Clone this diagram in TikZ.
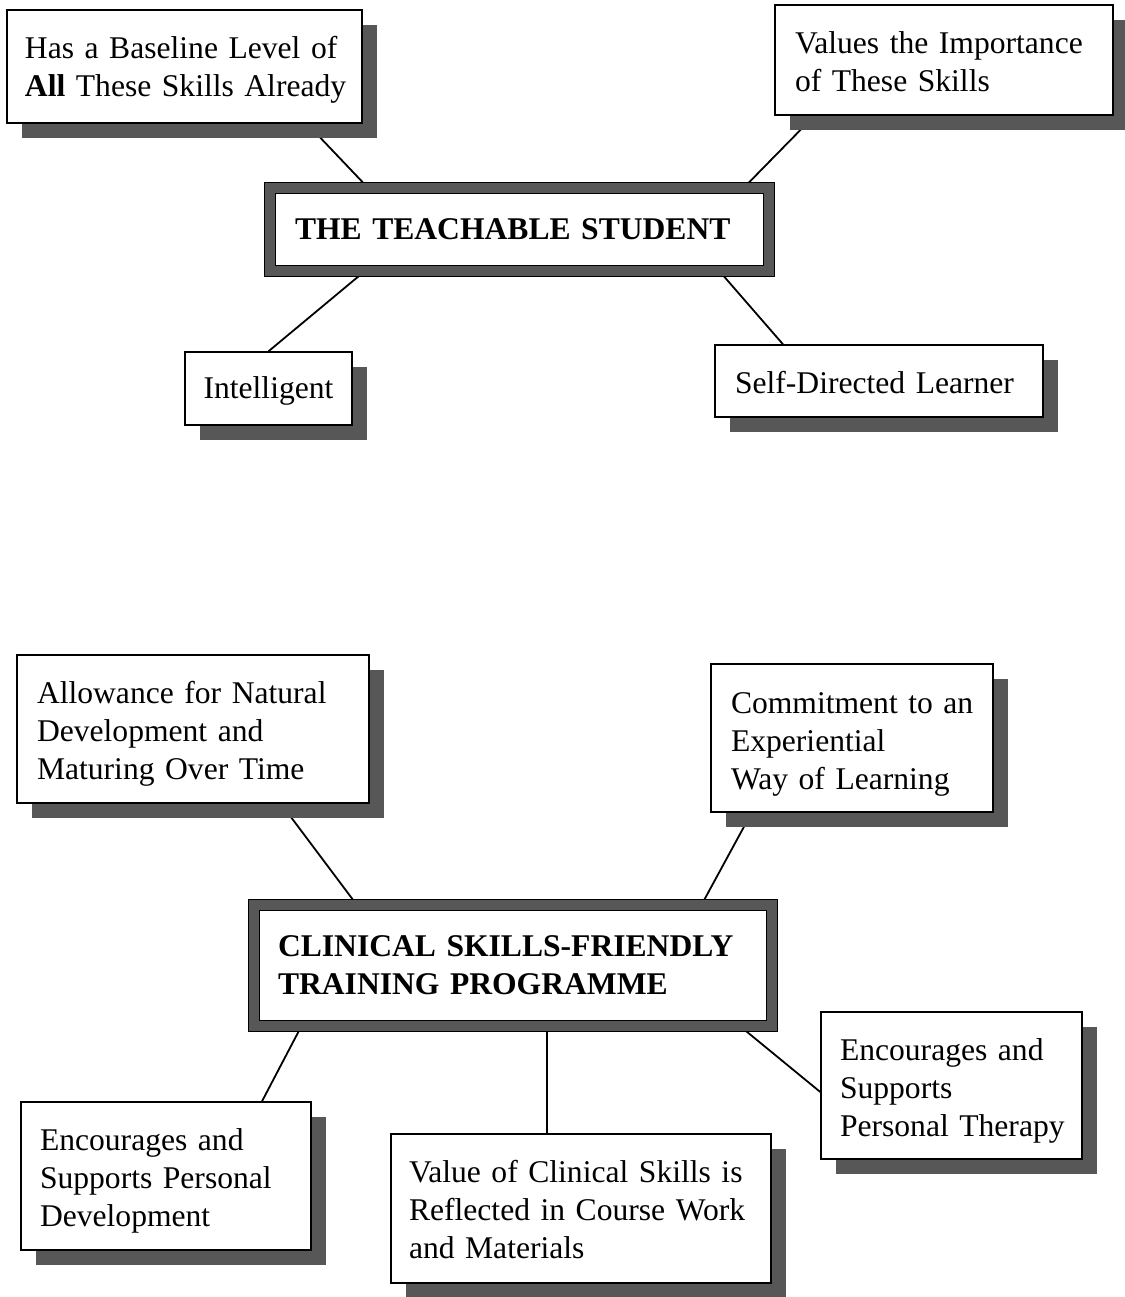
\documentclass[tikz,border=0pt]{standalone}
\usepackage{fontspec}
\setmainfont{Liberation Serif}
\usetikzlibrary{shadows,calc}
\pgfdeclarelayer{background}
\pgfsetlayers{background,main}
\newcommand\tline[1]{\mbox{#1}}
\newcommand\tstrut[1]{\rule{0pt}{#1}}
\newcommand\boxfont{\fontsize{15.8}{19}\selectfont\spaceskip=0.21em plus 0.1em minus 0.05em\relax}
\newcommand\mainfont{\fontsize{15.8}{19}\selectfont\bfseries\spaceskip=0.23em plus 0.1em minus 0.05em\relax}
\begin{document}
\begin{tikzpicture}[x=0.5pt,y=-0.5pt,
  every node/.style={font=\boxfont},
  sbox/.style={draw=black, line width=0.7pt, fill=white, rectangle, inner ysep=2pt, align=left,
     drop shadow={shadow xshift=7.25pt, shadow yshift=-7.5pt, fill=black!66, opacity=1}},
  mainbox/.style={draw=black, line width=0.7pt, double=black!66, double distance=4.6pt,
     fill=white, rectangle, inner ysep=2pt, font=\mainfont},
  conn/.style={line width=0.9pt, draw=black}]
\useasboundingbox (0,0) rectangle (1125,1297);

% top group
\node[sbox, minimum width=177.5pt, minimum height=56.5pt, inner xsep=9pt, text width=159.5pt]
  (base) at (184.5,66.5) {\tline{\tstrut{14.5pt}Has a Baseline Level of}\\\tline{\textbf{All} These Skills Already}};
\node[sbox, minimum width=169pt, minimum height=55pt, inner xsep=10pt, text width=149pt]
  (values) at (944,60) {\tline{\tstrut{12.5pt}Values the Importance}\\\tline{of These Skills}};
\node[mainbox, minimum width=249.5pt, minimum height=41.5pt, inner xsep=12.5pt, text width=224.5pt, align=left]
  (main1) at (519.5,229.5) {\tline{THE TEACHABLE STUDENT}};
\node[sbox, minimum width=83.5pt, minimum height=36.5pt, align=center]
  (intel) at (268.5,388.5) {\tstrut{13.5pt}Intelligent};
\node[sbox, minimum width=164pt, minimum height=36pt, inner xsep=10pt, text width=144pt]
  (self) at (879,381) {\tline{\tstrut{12.5pt}Self-Directed Learner}};

% bottom group
\node[sbox, minimum width=176pt, minimum height=74pt, inner xsep=10pt, text width=156pt]
  (allow) at (193,729) {\tline{\tstrut{16pt}Allowance for Natural}\\\tline{Development and}\\\tline{Maturing Over Time}};
\node[sbox, minimum width=141pt, minimum height=74pt, inner xsep=10pt, text width=121pt]
  (commit) at (852,738) {\tline{\tstrut{16.5pt}Commitment to an}\\\tline{Experiential}\\\tline{Way of Learning}};
\node[mainbox, minimum width=259pt, minimum height=60.5pt, inner xsep=12pt, text width=235pt, align=left]
  (main2) at (513,965.5) {\tline{CLINICAL SKILLS-FRIENDLY}\\\tline{TRAINING PROGRAMME}};
\node[sbox, minimum width=145pt, minimum height=74pt, inner xsep=9.5pt, text width=126pt]
  (pd) at (166,1176) {\tline{\tstrut{16pt}Encourages and}\\\tline{Supports Personal}\\\tline{Development}};
\node[sbox, minimum width=190pt, minimum height=74.5pt, inner xsep=9pt, text width=172pt]
  (value) at (581,1208.5) {\tline{\tstrut{12.5pt}Value of Clinical Skills is}\\\tline{Reflected in Course Work}\\\tline{and Materials}};
\node[sbox, minimum width=130.5pt, minimum height=73.5pt, inner xsep=9.5pt, text width=111.5pt]
  (therapy) at (951.5,1085.5) {\tline{\tstrut{16pt}Encourages and}\\\tline{Supports}\\\tline{Personal Therapy}};

\begin{pgfonlayer}{background}
\draw[conn] ($(base.south)+(122.5,0)$) -- ($(main1.north)+(-152,0)$);
\draw[conn] ($(values.south)+(-129.6,0)$) -- ($(main1.north)+(224.7,0)$);
\draw[conn] ($(main1.south)+(-155.4,0)$) -- (intel.north);
\draw[conn] ($(main1.south)+(200.4,0)$) -- ($(self.north)+(-96,0)$);
\draw[conn] ($(allow.south)+(87.9,0)$) -- ($(main2.north)+(-156.6,0)$);
\draw[conn] ($(commit.south)+(-100.4,0)$) -- ($(main2.north)+(188.8,0)$);
\draw[conn] ($(main2.south)+(-211.9,0)$) -- ($(pd.north)+(96,0)$);
\draw[conn] ($(main2.south)+(34,0)$) -- ($(value.north)+(-34,0)$);
\draw[conn] ($(main2.south)+(227.7,0)$) -- ($(therapy.west)+(0,6.5)$);
\end{pgfonlayer}
\end{tikzpicture}
\end{document}
